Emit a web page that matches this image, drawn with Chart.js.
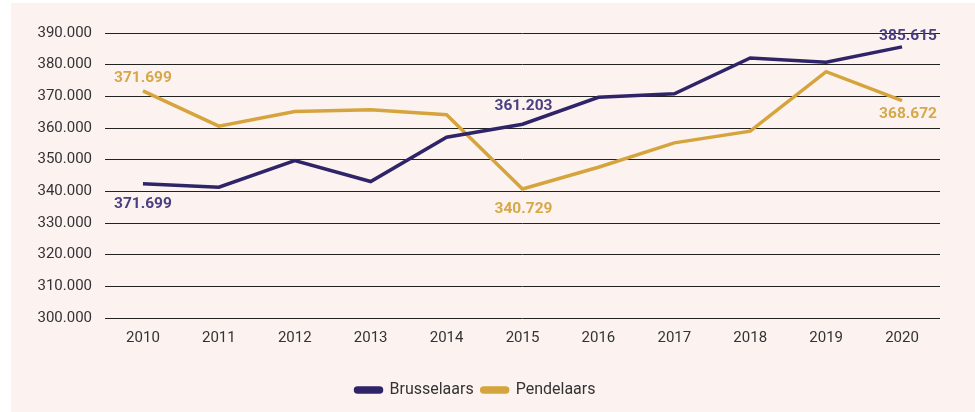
<!DOCTYPE html>
<html>
<head>
<meta charset="utf-8">
<script src="https://cdn.jsdelivr.net/npm/chart.js@4/dist/chart.umd.min.js"></script>
<style>
  html, body { margin: 0; padding: 0; background: #ffffff; }
  #wrap { position: absolute; left: 11px; top: 3px; width: 964px; height: 409px; background: #fcf3f1; }
  #myChart { position: absolute; left: 0; top: 0; }
</style>
</head>
<body>
<div id="wrap"><canvas id="myChart" width="964" height="409"></canvas></div>
<script>
// Waarden
const jaren = ['2010', '2011', '2012', '2013', '2014', '2015', '2016', '2017', '2018', '2019', '2020'];
const brusselaars = [342400, 341300, 349700, 343100, 357100, 361203, 369700, 370800, 382100, 380800, 385615];
const pendelaars = [371699, 360600, 365200, 365800, 364200, 340729, 347600, 355300, 359000, 377800, 368672];
const yTicks = [300000, 310000, 320000, 330000, 340000, 350000, 360000, 370000, 380000, 390000];

// labels bij punten: [index, tekst]
const brusselaarsLabels = [[0, '371.699'], [5, '361.203'], [10, '385.615']];
const pendelaarsLabels = [[0, '371.699'], [5, '340.729'], [10, '368.672']];

const paars = '#2f2468';
const goud = '#d6a43c';

// verschuiving van elk label t.o.v. het punt [dx, dy]
const verschuiving = {
    0: { 0: [0, 20], 5: [1, -18], 10: [6, -11] },
    1: { 0: [0, -13], 5: [1, 20], 10: [6, 14] }
};

const puntLabels = {
    id: 'puntLabels',
    afterDatasetsDraw(chart) {
        const ctx = chart.ctx;
        ctx.save();
        ctx.font = 'bold 15.5px Roboto';
        ctx.textAlign = 'center';
        ctx.textBaseline = 'middle';
        const sets = [
            { lijst: brusselaarsLabels, ds: 0, kleur: '#4a4080' },
            { lijst: pendelaarsLabels, ds: 1, kleur: '#d7a84a' }
        ];
        sets.forEach(s => {
            const meta = chart.getDatasetMeta(s.ds);
            s.lijst.forEach(([i, tekst]) => {
                const p = meta.data[i];
                const [dx, dy] = verschuiving[s.ds][i];
                ctx.fillStyle = s.kleur;
                ctx.fillText(tekst, p.x + dx, p.y + dy);
            });
        });
        ctx.restore();
    }
};

const ctx = document.getElementById('myChart');
new Chart(ctx, {
    type: 'line',
    data: {
        labels: jaren,
        datasets: [
            {
                label: 'Brusselaars',
                data: brusselaars,
                borderColor: paars,
                backgroundColor: paars,
                borderWidth: 3.5,
                pointRadius: 0,
                tension: 0
            },
            {
                label: 'Pendelaars',
                data: pendelaars,
                borderColor: goud,
                backgroundColor: goud,
                borderWidth: 3.5,
                pointRadius: 0,
                tension: 0
            }
        ]
    },
    options: {
        responsive: false,
        animation: false,
        layout: { padding: { left: 0, right: 35, top: 30, bottom: 4 } },
        scales: {
            x: {
                offset: true,
                grid: { display: false, drawTicks: false },
                border: { display: false },
                ticks: { color: '#333', font: { family: 'Roboto', size: 15 }, padding: 11 },
                title: { display: true, text: ' ', font: { size: 10, lineHeight: 1.2 }, padding: { top: 1, bottom: 3 } }
            },
            y: {
                min: 300000,
                max: 390000,
                afterBuildTicks: axis => { axis.ticks = yTicks.map(v => ({ value: v })); },
                afterFit: axis => { axis.width = 94; },
                grid: { color: '#222', lineWidth: 1, drawTicks: false },
                border: { display: false },
                ticks: {
                    color: '#333',
                    font: { family: 'Roboto', size: 15 },
                    padding: 13,
                    callback: v => (v / 1000).toFixed(3)
                }
            }
        },
        plugins: {
            legend: {
                position: 'bottom',
                labels: {
                    color: '#333',
                    font: { family: 'Roboto', size: 16 },
                    boxWidth: 26,
                    boxHeight: 4,
                    useBorderRadius: true,
                    borderRadius: 2,
                    padding: 8
                }
            },
            tooltip: { enabled: false }
        }
    },
    plugins: [puntLabels]
});
</script>
</body>
</html>
